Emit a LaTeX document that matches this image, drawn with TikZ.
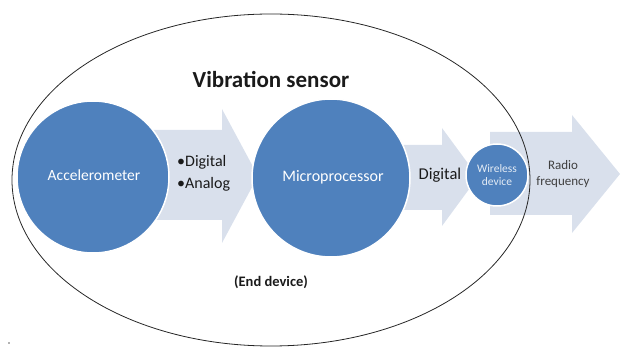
\documentclass[tikz,border=0pt]{standalone}
\usepackage{fontspec}
\setmainfont{Carlito}
\definecolor{cblue}{HTML}{4F81BD}
\definecolor{carrow}{HTML}{D9E0EC}
\definecolor{ctext}{HTML}{1A1A1A}
\begin{document}
\begin{tikzpicture}[x=1pt,y=-1pt,
  blob/.style={circle,fill=cblue,draw=white,line width=1.5pt,inner sep=0pt,text=white},
  blockarrow/.style={fill=carrow,draw=none},
  lbl/.style={text=ctext,inner sep=0pt,align=center}]
\useasboundingbox (0,0) rectangle (625,347);
% block arrows
\fill[blockarrow] (150,130) -- (222,130) -- (222,109) -- (258,176) -- (222,243) -- (222,220) -- (150,220) -- cycle;
\fill[blockarrow] (400,145) -- (442,145) -- (442,128) -- (478,177) -- (442,226) -- (442,210) -- (400,210) -- cycle;
\fill[blockarrow] (490,132) -- (572,132) -- (572,115) -- (620,174) -- (572,233) -- (572,215) -- (490,215) -- cycle;
% circles
\node[blob,minimum size=152pt] (acc) at (93,177) {};
\node[blob,minimum size=158pt] (mic) at (331,178) {};
\node[blob,minimum size=62pt] (wir) at (497,175) {};
\node[text=white,font=\fontsize{15.5}{18}\selectfont] (acct) at (94,175) {Accelerometer};
\node[text=white,font=\fontsize{16}{18}\selectfont] (mict) at (333,177) {Microprocessor};
\node[text=white!85!cblue,align=center,font=\fontsize{11.5}{13.5}\selectfont] (wirt) at (wir) {Wireless\\device};
% labels
\node[lbl,align=left,anchor=west,font=\fontsize{16}{22}\selectfont] (da) at (177,173) {•Digital\\•Analog};
\node[lbl,font=\fontsize{16.5}{18}\selectfont] (dig) at (440,175) {Digital};
\node[lbl,text=black!75,font=\fontsize{13}{16}\selectfont] (rf) at (563,174) {Radio\\frequency};
\node[lbl,font=\bfseries\fontsize{23}{26}\selectfont] (vs) at (271,80) {Vibration sensor};
\node[lbl,font=\bfseries\fontsize{14.5}{17}\selectfont] (ed) at (271,282) {(End device)};
% outer ellipse
\draw[black!85,line width=0.8pt] (271,180) ellipse [x radius=259, y radius=166];
\fill[black!60] (9,343) circle (0.8);
\end{tikzpicture}
\end{document}
